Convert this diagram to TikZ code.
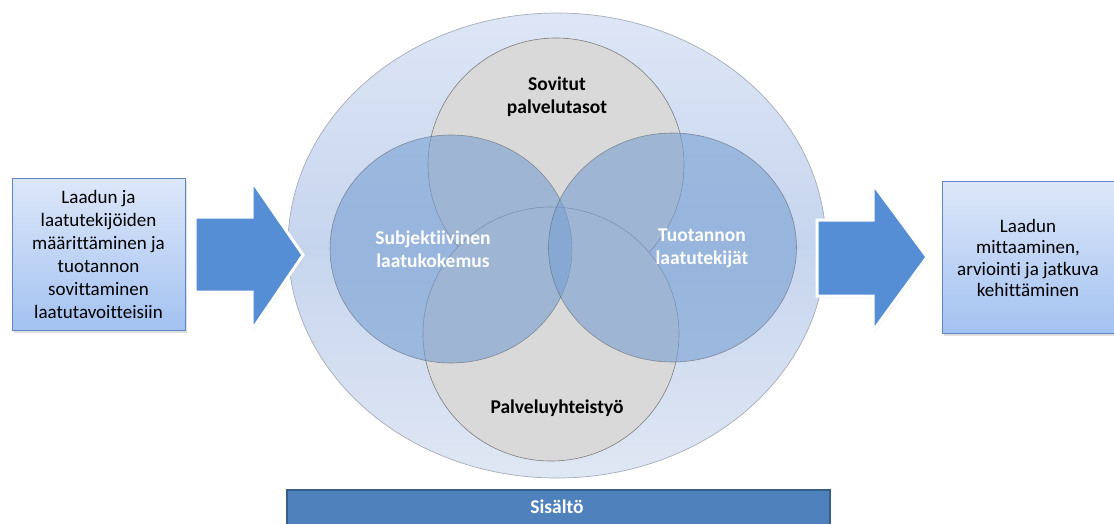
\documentclass[tikz,border=0pt]{standalone}
\usepackage{fontspec}
\setmainfont[Ligatures={NoCommon}]{Carlito}
\usetikzlibrary{shadows}
\definecolor{arrowblue}{RGB}{85,142,213}
\definecolor{boxtop}{RGB}{221,231,249}
\definecolor{boxbot}{RGB}{163,194,241}
\definecolor{boxline}{RGB}{95,135,195}
\definecolor{barfill}{RGB}{79,129,189}
\definecolor{barline}{RGB}{56,93,138}
\definecolor{venngray}{RGB}{217,217,217}
\definecolor{vennblue}{RGB}{120,160,210}
\definecolor{elltop}{RGB}{222,230,246}
\definecolor{ellmid}{RGB}{198,213,238}
\definecolor{ellbot}{RGB}{224,231,244}
\tikzset{
  txt/.style={font=\fontsize{19}{23}\selectfont, align=center, text=black},
  btxt/.style={font=\bfseries\fontsize{19.5}{23}\selectfont, align=center},
  sidebox/.style={draw=boxline, line width=1pt, top color=boxtop, bottom color=boxbot,
    drop shadow={opacity=0.25, shadow xshift=2pt, shadow yshift=-3pt}},
  bigarrow/.style={fill=arrowblue, draw=white, line width=3pt, line join=miter,
    drop shadow={opacity=0.15, shadow xshift=1pt, shadow yshift=-2pt}},
  graycirc/.style={fill=venngray, draw={rgb,255:red,125;green,125;blue,125}, line width=0.6pt},
  bluecirc/.style={fill=vennblue, fill opacity=0.6, draw={rgb,255:red,90;green,95;blue,105}, draw opacity=0.6, line width=0.6pt},
}
\begin{document}
\begin{tikzpicture}[x=1pt,y=-1pt]
\useasboundingbox (0,0) rectangle (1114,523);

% big background ellipse
\path[draw={rgb,255:red,165;green,172;blue,185}, line width=0.7pt,
  top color=elltop, bottom color=ellbot, middle color=ellmid]
  (557,245.5) ellipse [x radius=269, y radius=232.5];

% gray circles
\path[graycirc] (556,165) ellipse [x radius=128, y radius=127];
\path[graycirc] (551,334) ellipse [x radius=128, y radius=127];

% blue circles
\path[bluecirc] (451,249) ellipse [x radius=121, y radius=114];
\path[bluecirc] (672.5,247.5) ellipse [x radius=124, y radius=114.5];

% labels in circles
\node[btxt, text=black] (sov) at (557,97) {Sovitut\\palvelutasot};
\node[btxt, text=white] (sub) at (433,249) {Subjektiivinen\\laatukokemus};
\node[btxt, text=white] (tuo) at (702,248) {Tuotannon\\laatutekijät};
\node[btxt, text=black] (pal) at (557,408) {Palveluyhteistyö};

% side boxes
\node[sidebox, minimum width=173pt, minimum height=152pt, inner sep=0pt] (left) at (98.5,254) {};
\node[txt] (lefttxt) at (98.5,254) {Laadun ja\\laatutekijöiden\\määrittäminen ja\\tuotannon\\sovittaminen\\laatutavoitteisiin};
\node[sidebox, minimum width=174pt, minimum height=152pt, inner sep=0pt] (right) at (1029,257) {};
\node[txt, font=\fontsize{19}{21.5}\selectfont] (righttxt) at (1028,258) {Laadun\\mittaaminen,\\arviointi ja jatkuva\\kehittäminen};

% arrows
\path[bigarrow] (195,217) -- (252,217) -- (252,181) -- (303,255) -- (252,330) -- (252,292) -- (195,292) -- cycle;
\path[bigarrow] (817,220) -- (873,220) -- (873,184) -- (927,257) -- (873,331) -- (873,296) -- (817,296) -- cycle;

% bottom bar
\node[draw=barline, fill=barfill, line width=1.5pt, minimum width=543pt, minimum height=50pt, inner sep=0pt,
  anchor=north west] (bar) at (286,489) {};
\node[btxt, text=white] (sis) at (557,507) {Sisältö};
\end{tikzpicture}
\end{document}
